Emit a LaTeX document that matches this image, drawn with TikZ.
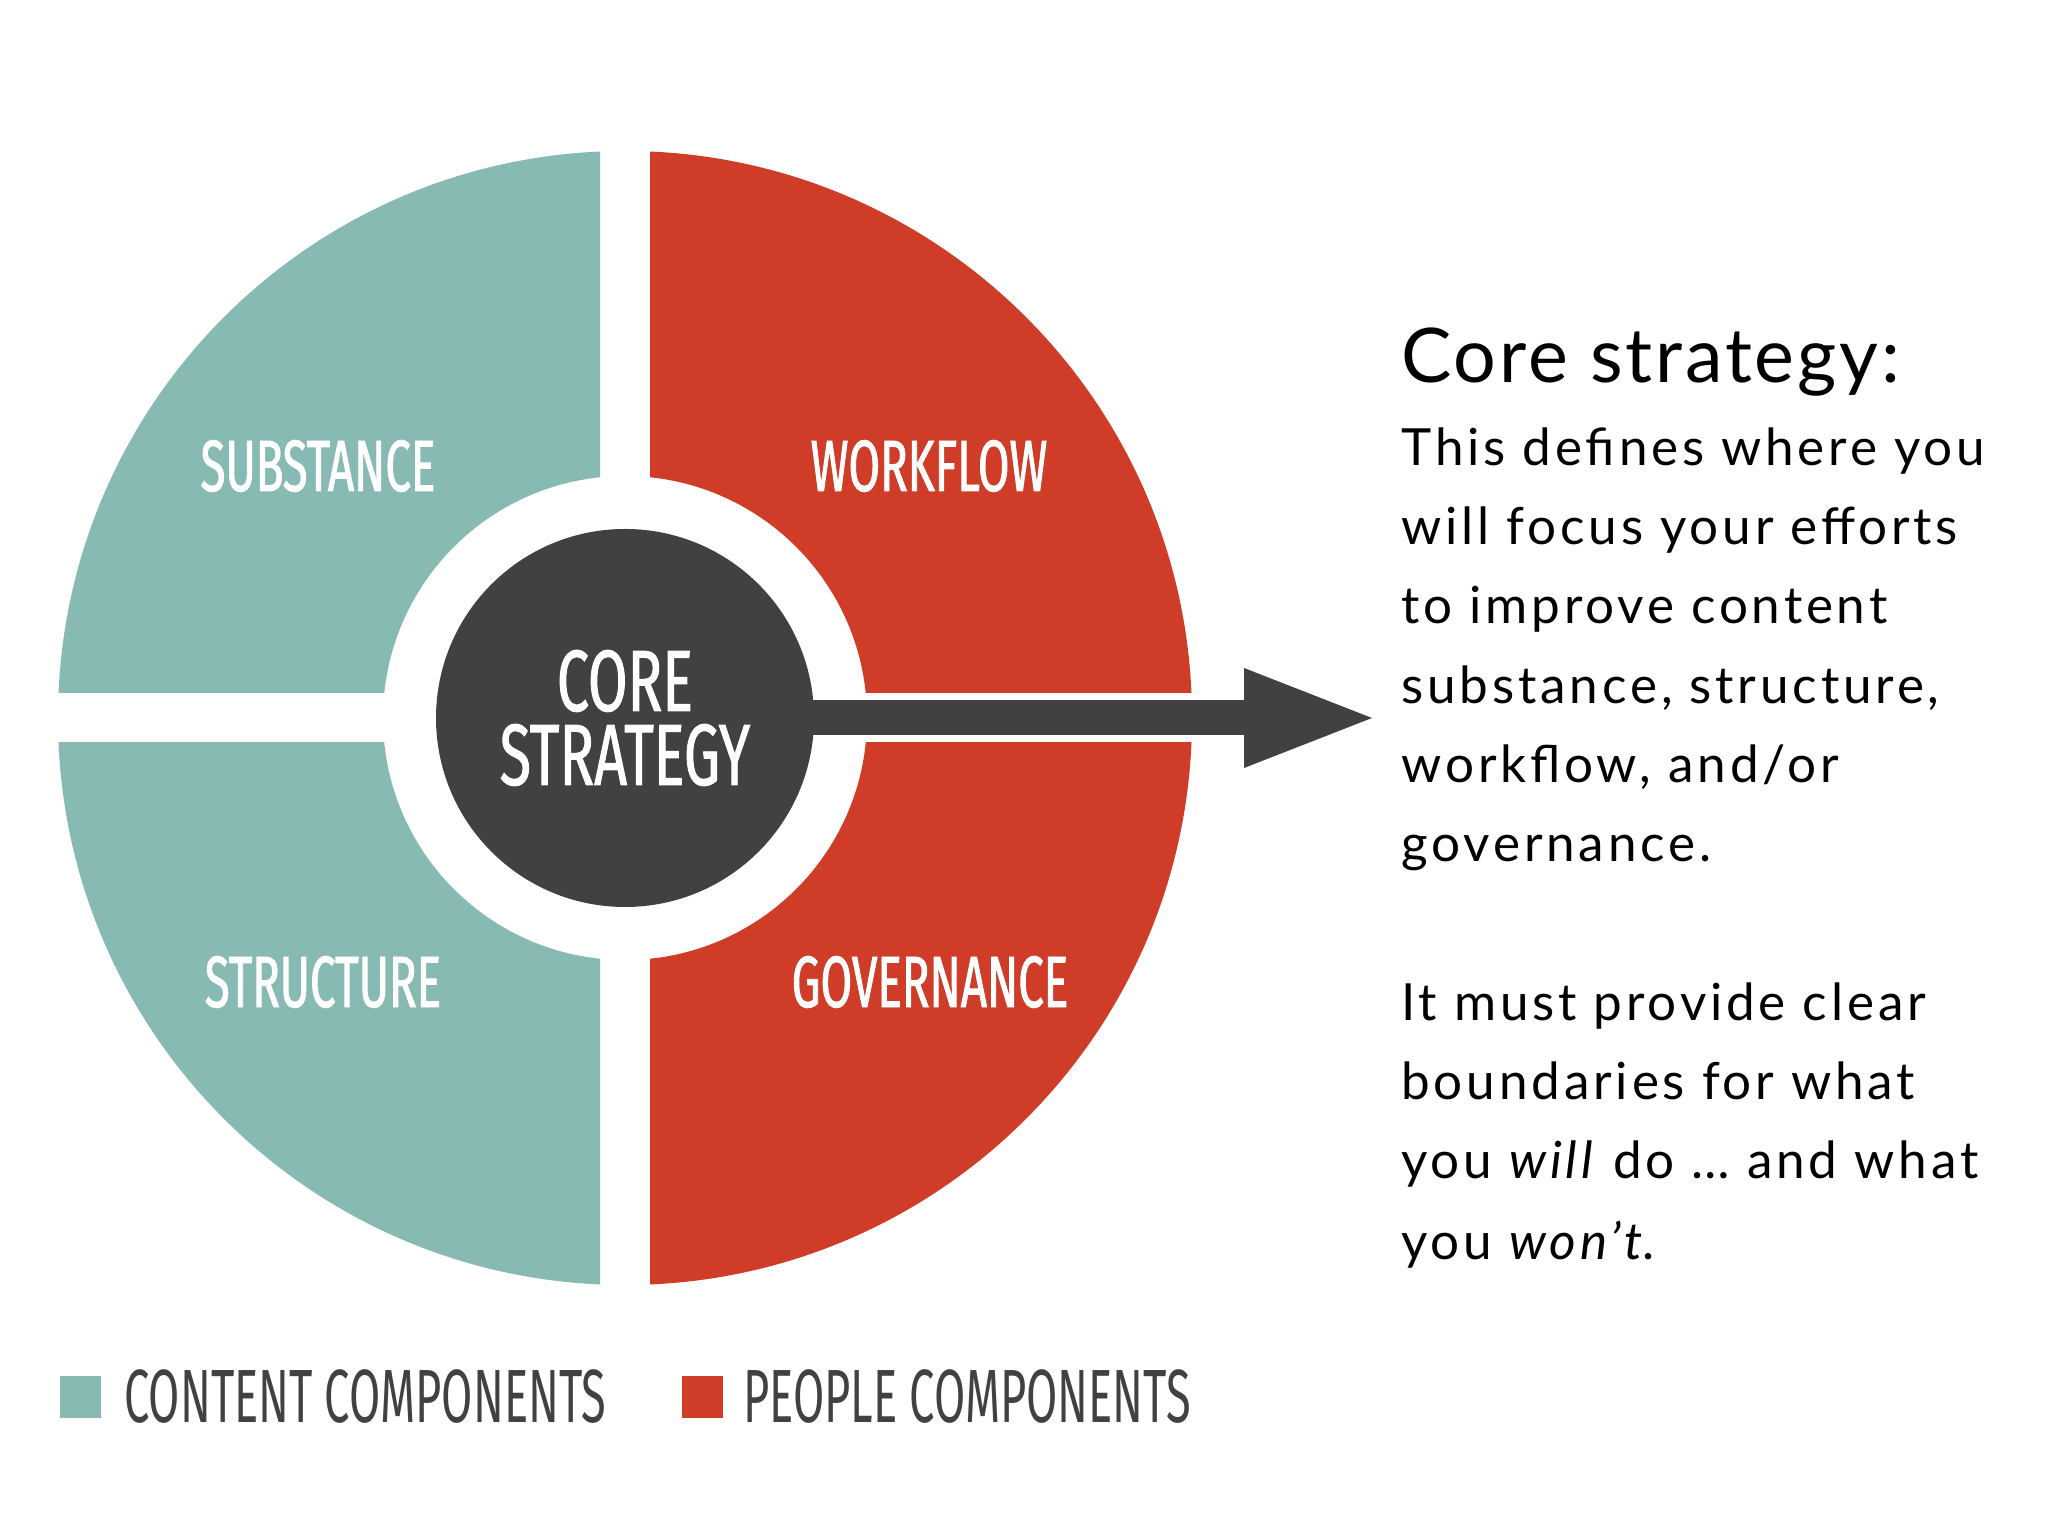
\documentclass[tikz,border=0pt]{standalone}
\usepackage{fontspec}
\setmainfont{Lato}
\newfontfamily\cond{Fira Sans}[FakeStretch=0.6]
\newfontfamily\condlab{Fira Sans}[FakeStretch=0.63, FakeBold=1.2]
\newfontfamily\condcore{Fira Sans}[FakeStretch=0.66, FakeBold=1.0]
\newfontfamily\bodyfont{Lato}[LetterSpace=7.5]
\newfontfamily\titlefont{Lato}[LetterSpace=3.8]
\usetikzlibrary{arrows.meta}
\definecolor{tealc}{HTML}{88BAB4}
\definecolor{redc}{HTML}{CF3C27}
\definecolor{darkc}{HTML}{414042}
\begin{document}
\begin{tikzpicture}[x=0.5pt,y=0.5pt,
  seglabel/.style={inner sep=0pt, text=white, font=\condlab\fontsize{36.3}{40}\selectfont},
  legtext/.style={anchor=west, inner sep=0pt, text=darkc, font=\cond\fontsize{37.7}{40}\selectfont},
  legbox/.style={inner sep=0pt, minimum width=20.5pt, minimum height=21pt},
  titletext/.style={anchor=base west, inner sep=0pt, font=\titlefont\fontsize{37.7}{44}\selectfont},
  bodytext/.style={anchor=base west, inner sep=0pt, font=\bodyfont\fontsize{25.6}{30}\selectfont},
  corestyle/.style={circle, fill=darkc, minimum size=189pt, inner sep=0pt, text=white, align=center,
    font=\condcore\fontsize{43.5}{37}\selectfont},
  bigarrow/.style={darkc, line width=17.5pt, -{Triangle[length=64pt, width=50pt, line width=0pt]}}
]
\useasboundingbox (0,0) rectangle (2048,1536);
\fill[white] (0,0) rectangle (2048,1536);
\coordinate (C) at (625,818);
% quadrants
\begin{scope}
  \clip (0,843) rectangle (600,1500);
  \fill[tealc, even odd rule] (C) circle[radius=567] (C) circle[radius=242];
\end{scope}
\begin{scope}
  \clip (650,843) rectangle (1300,1500);
  \fill[redc, even odd rule] (C) circle[radius=567] (C) circle[radius=242];
\end{scope}
\begin{scope}
  \clip (0,0) rectangle (600,793);
  \fill[tealc, even odd rule] (C) circle[radius=567] (C) circle[radius=242];
\end{scope}
\begin{scope}
  \clip (650,0) rectangle (1300,793);
  \fill[redc, even odd rule] (C) circle[radius=567] (C) circle[radius=242];
\end{scope}
% labels
\node[seglabel] (substance) at (318,1070) {SUBSTANCE};
\node[seglabel] (workflow) at (929,1070) {WORKFLOW};
\node[seglabel] (structure) at (323,554) {STRUCTURE};
\node[seglabel] (governance) at (930,554) {GOVERNANCE};
% core
\node[corestyle] (core) at (C) {CORE\\STRATEGY};
\coordinate (tip) at (1372,818);
\draw[bigarrow] ([xshift=-4pt]core.east) -- (tip);
% legend
\node[legbox, fill=tealc] (lg1) at (80.5,139) {};
\node[legtext] (lt1) at (124,139) {CONTENT COMPONENTS};
\node[legbox, fill=redc] (lg2) at (702.5,139) {};
\node[legtext] (lt2) at (743,139) {PEOPLE COMPONENTS};
% right text
\node[titletext] (title) at (1401,1153) {Core strategy:};
\node[bodytext] (b1) at (1401,1070) {This defines where you};
\node[bodytext] (b2) at (1401,991) {will focus your efforts};
\node[bodytext] (b3) at (1401,912) {to improve content};
\node[bodytext] (b4) at (1401,832) {substance, structure,};
\node[bodytext] (b5) at (1401,753) {workflow, and/or};
\node[bodytext] (b6) at (1401,674) {governance.};
\node[bodytext] (b7) at (1401,515) {It must provide clear};
\node[bodytext] (b8) at (1401,436) {boundaries for what};
\node[bodytext] (b9) at (1401,357) {you \textit{will} do \dots{} and what};
\node[bodytext] (b10) at (1401,277) {you \textit{won’t}.};
\end{tikzpicture}
\end{document}
